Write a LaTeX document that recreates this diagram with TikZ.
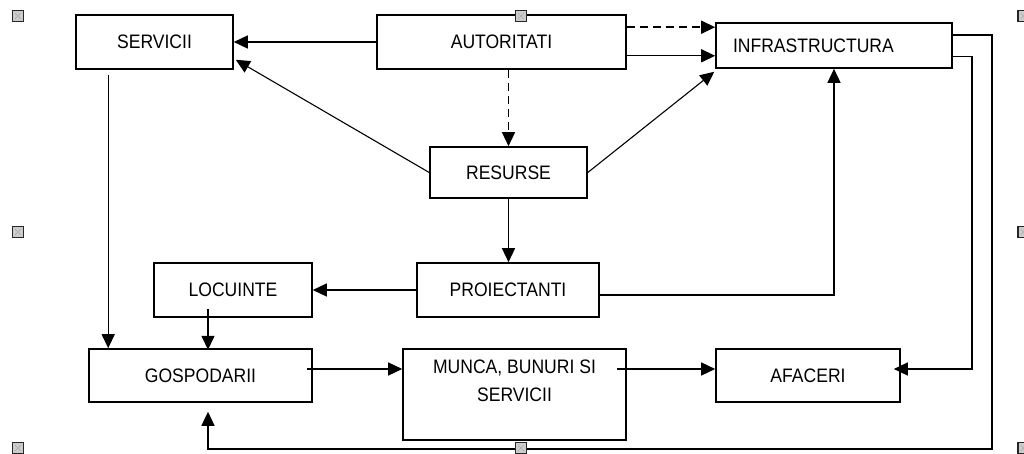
\documentclass[tikz,border=0pt]{standalone}
\usepackage{fontspec}
\setmainfont[FakeStretch=0.9]{Liberation Sans}
\usetikzlibrary{arrows.meta,calc}

\begin{document}
\begin{tikzpicture}[x=1pt,y=-1pt,
  box/.style={draw=black, line width=1.6pt, inner sep=0pt, align=center,
              font=\fontsize{19.5}{28}\selectfont},
  txt/.style={inner sep=0pt, align=center, font=\fontsize{19.5}{28}\selectfont},
  conn/.style={draw=black, line width=1.4pt, -{Triangle[length=14pt,width=13pt]}},
  dashconn/.style={conn, dash pattern=on 8pt off 5pt},
  thinconn/.style={conn, line width=1.1pt},
  handle/.style={draw=black!85, line width=1.3pt, fill=gray!40},
  handlex/.style={draw=gray!65, line width=0.5pt}
]
\useasboundingbox (0,0) rectangle (1024,454);

% boxes
\node[box, minimum width=157pt, minimum height=54pt] (serv) at (154.5,42) {SERVICII};
\node[box, minimum width=249pt, minimum height=54pt] (aut) at (501.5,42) {AUTORITATI};
\node[box, minimum height=45pt, text width=202pt, inner xsep=17pt, align=left] (infra) at (834,45.5) {INFRASTRUCTURA};
\node[box, minimum width=157pt, minimum height=51pt] (res) at (508.5,172.5) {RESURSE};
\node[box, minimum width=182pt, minimum height=54pt] (proi) at (508,290) {PROIECTANTI};
\node[box, minimum width=158pt, minimum height=54pt] (loc) at (233,290) {LOCUINTE};
\node[box, minimum width=223pt, minimum height=53pt] (gosp) at (200.5,375.5) {GOSPODARII};
\node[box, minimum width=223pt, minimum height=91pt] (munca) at (514.5,394.5) {};
\node[txt, anchor=north] (muncatxt) at ($(munca.north)+(0,11)$) {MUNCA, BUNURI SI\\SERVICII};
\node[box, minimum width=184pt, minimum height=53pt] (afac) at (808,375.5) {AFACERI};

% connectors
\draw[conn] (aut.west) -- (serv.east);
\draw[thinconn] (res.west) -- ($(serv.south east)+(2,-10)$);
\draw[dashconn] ($(aut.north east)+(0,13)$) -- ($(infra.north west)+(0,5)$);
\draw[conn] ($(aut.south east)+(0,-14)$) -- ($(infra.south west)+(0,-13)$);
\draw[thinconn] (res.east) -- ($(infra.south west)+(-1,3)$);
\draw[dashconn] (res.north |- aut.south) -- (res.north);
\draw[conn] (res.south) -- (res.south |- proi.north);
\draw[conn] (proi.west) -- (loc.east |- proi.west);
\draw[conn] ($(proi.east)+(0,5)$) -| (infra.south);
\draw[conn] ($(serv.south west)+(33,5)$) -- ($(gosp.north west)+(20,0)$);
\draw[conn] ($(loc.south)+(-25,-9)$) -- ($(loc.south)+(-25,32)$);
\draw[conn] ($(gosp.east)+(-6,-6.5)$) -- ($(munca.west |- gosp.east)+(0,-6.5)$);
\draw[conn] ($(afac.west)+(-98,-6.5)$) -- ($(afac.west)+(0,-6.5)$);
\draw[conn] ($(infra.south east)+(0,-12)$) -- ++(19,0) |- ($(afac.east)+(-7,-6.5)$);
\coordinate (loopB) at ($(gosp.south)+(7.5,46)$);
\draw[conn] ($(infra.north east)+(0,13)$) -- ++(39,0) |- (loopB) -- ($(gosp.south)+(7.5,9)$);

% selection handles of the frame
\foreach \hx/\hy in {18/16, 521/16, 1023.5/16, 18/232, 1023.5/232, 18/448, 521/448, 1023.5/448}{
  \draw[handle] (\hx-5.5,\hy-5.5) rectangle (\hx+5.5,\hy+5.5);
  \draw[handlex] (\hx-3,\hy-3) -- (\hx+3,\hy+3) (\hx-3,\hy+3) -- (\hx+3,\hy-3);
}
\end{tikzpicture}
\end{document}
